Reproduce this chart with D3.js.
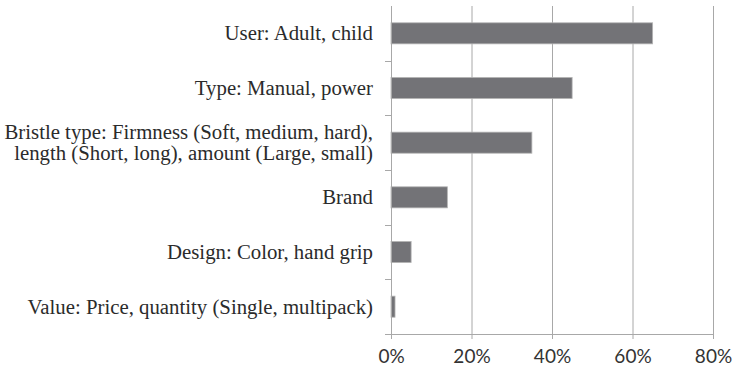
<!DOCTYPE html>
<html>
<head>
  <meta charset="utf-8">
  <title>Toothbrush attributes</title>
  <style>
    body { margin: 0; background: #fff; }
    .grid line { stroke: #a8a8a8; stroke-width: 1; }
    .grid path { display: none; }
    .cat-label { font-family: "Liberation Serif", "DejaVu Serif", serif; font-size: 20.8px; fill: #2b2b2b; }
    .x-axis text { font-family: "Lato", "Open Sans", sans-serif; font-size: 19px; fill: #333; }
    .x-axis path, .x-axis line, .y-axis path, .y-axis line { stroke: #a8a8a8; }
  </style>
</head>
<body>
  <script src="https://cdn.jsdelivr.net/npm/d3@7"></script>
  <script>
    // data
    var categories = [
      ["User: Adult, child"],
      ["Type: Manual, power"],
      ["Bristle type: Firmness (Soft, medium, hard),", "length (Short, long), amount (Large, small)"],
      ["Brand"],
      ["Design: Color, hand grip"],
      ["Value: Price, quantity (Single, multipack)"]
    ];
    var values = [65, 45, 35, 14, 5, 1];
    var xTicks = [0, 20, 40, 60, 80];

    var w = 734, h = 371;
    var plotLeft = 391, plotRight = 713, plotTop = 6, plotBottom = 334;

    var svg = d3.select("body").append("svg")
      .attr("width", w)
      .attr("height", h);

    var x = d3.scaleLinear().domain([0, 80]).range([plotLeft, plotRight]);
    var y = d3.scaleBand()
      .domain(d3.range(categories.length))
      .range([plotTop, plotBottom])
      .paddingInner(0.615)
      .paddingOuter(0.3075);
    var yOuter = d3.scaleBand().domain(d3.range(categories.length)).range([plotTop, plotBottom]);

    // vertical gridlines
    svg.append("g")
      .attr("class", "grid")
      .attr("transform", "translate(0," + plotBottom + ")")
      .call(d3.axisBottom(x).tickValues(xTicks.slice(1)).tickSize(-(plotBottom - plotTop)).tickFormat(""));

    // bars
    svg.selectAll("rect.bar")
      .data(values)
      .enter()
      .append("rect")
      .attr("class", "bar")
      .attr("x", x(0))
      .attr("y", function(d, i) { return y(i); })
      .attr("width", function(d) { return x(d) - x(0); })
      .attr("height", y.bandwidth())
      .attr("fill", "#737377")
      .attr("stroke", "#b4b4b4")
      .attr("stroke-width", 0.8);

    // x axis
    var xAxis = svg.append("g")
      .attr("class", "x-axis")
      .attr("transform", "translate(0," + plotBottom + ")")
      .call(d3.axisBottom(x).tickValues(xTicks).tickSize(5).tickPadding(11).tickFormat(function(d) { return d + "%"; }));
    xAxis.select(".domain").attr("d", "M" + plotLeft + ",0.5H" + plotRight);

    // y axis line and category ticks
    var yAxis = svg.append("g").attr("class", "y-axis");
    yAxis.append("line")
      .attr("x1", plotLeft + 0.5).attr("x2", plotLeft + 0.5)
      .attr("y1", plotTop).attr("y2", plotBottom + 5);
    yAxis.selectAll("line.tick")
      .data(d3.range(1, categories.length + 1))
      .enter()
      .append("line")
      .attr("class", "tick")
      .attr("x1", plotLeft - 6).attr("x2", plotLeft)
      .attr("y1", function(d) { return Math.round(plotTop + d * yOuter.step()) + 0.5; })
      .attr("y2", function(d) { return Math.round(plotTop + d * yOuter.step()) + 0.5; });

    // category labels
    var lineH = 21;
    svg.selectAll("text.cat-label")
      .data(categories)
      .enter()
      .append("text")
      .attr("class", "cat-label")
      .attr("text-anchor", "end")
      .each(function(lines, i) {
        var cy = yOuter(i) + yOuter.bandwidth() / 2;
        var y0 = cy - (lines.length - 1) * lineH / 2;
        d3.select(this).selectAll("tspan")
          .data(lines)
          .enter()
          .append("tspan")
          .attr("x", 373)
          .attr("y", function(d, j) { return y0 + j * lineH; })
          .attr("dy", "0.33em")
          .text(function(d) { return d; });
      });
  </script>
</body>
</html>
